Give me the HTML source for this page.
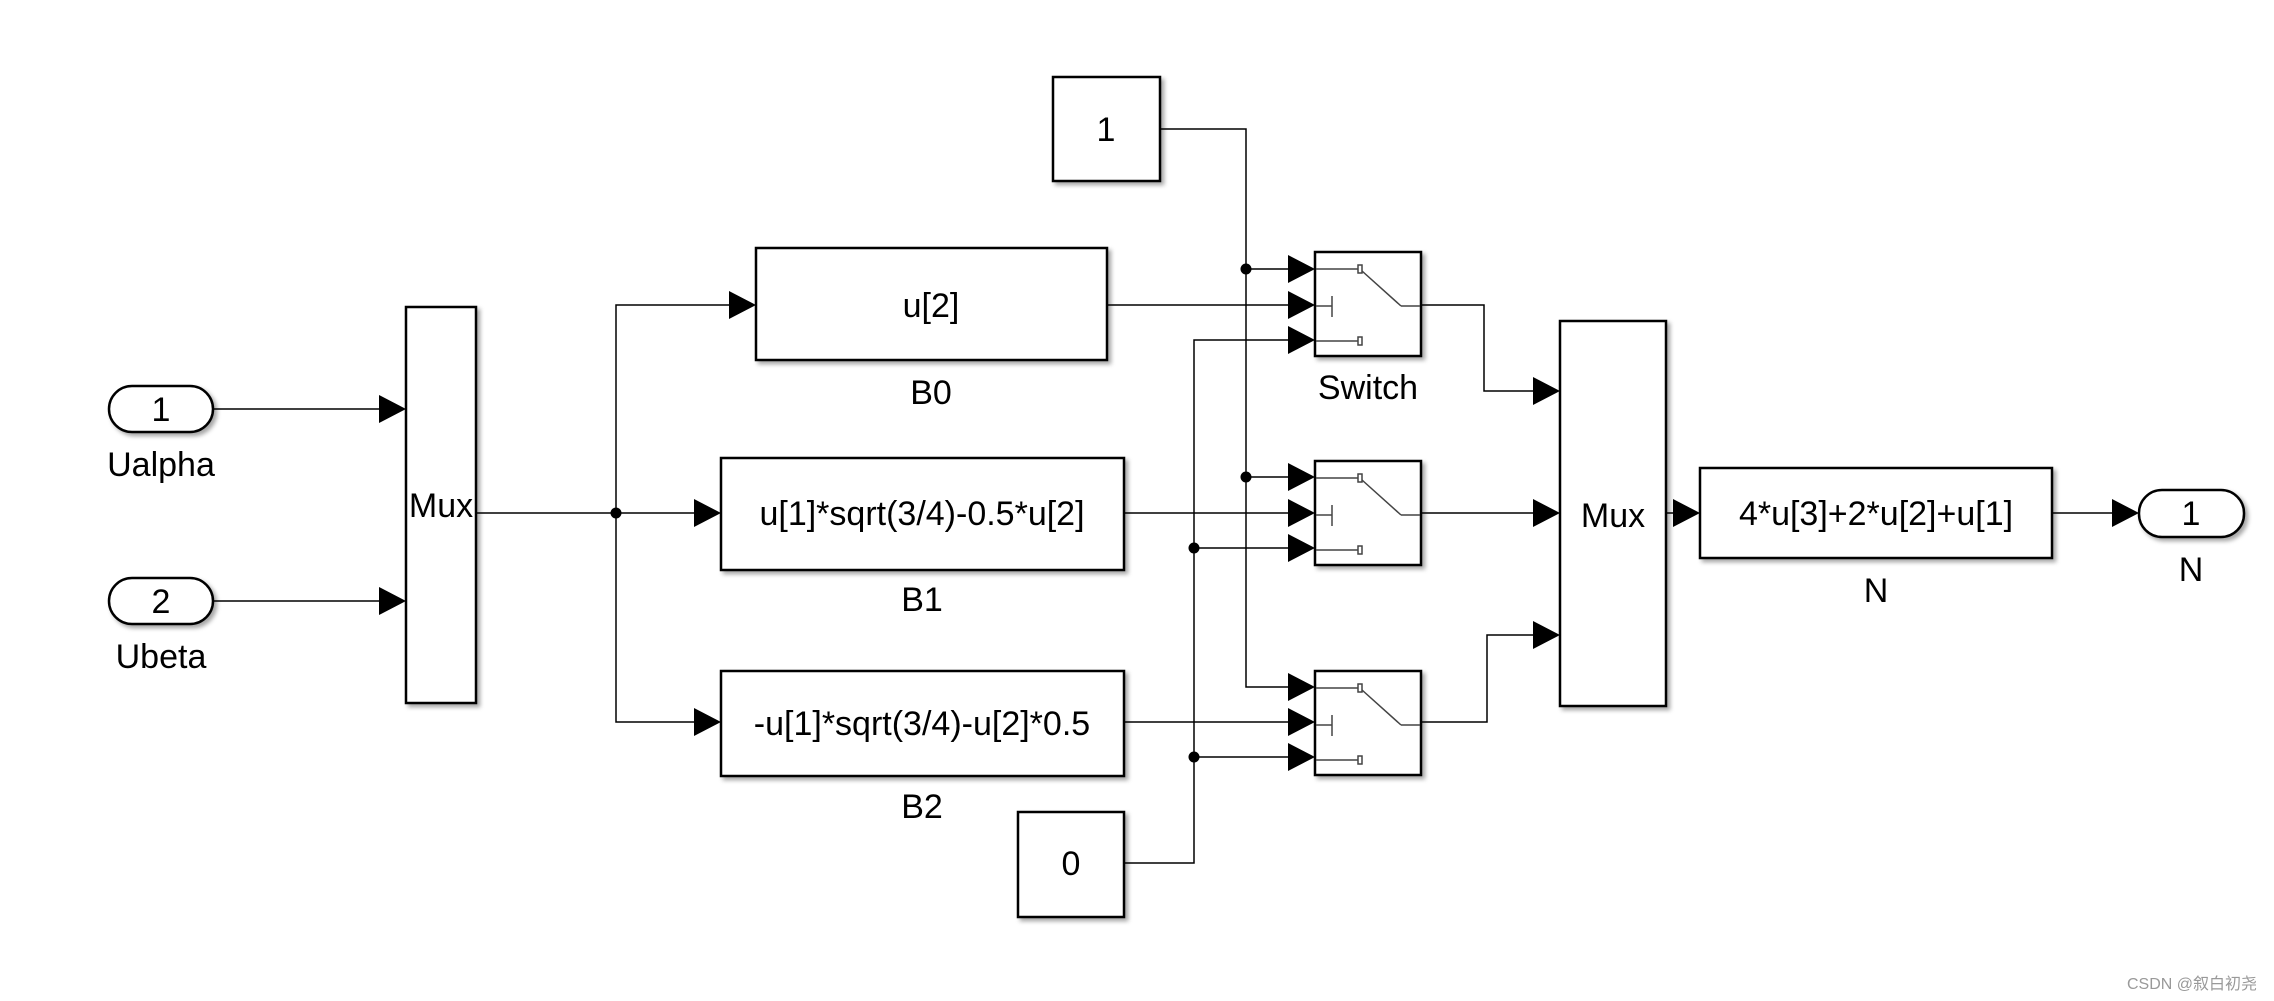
<!DOCTYPE html>
<html><head><meta charset="utf-8"><style>
html,body{margin:0;padding:0;background:#fff;}
svg{display:block;}
text{font-family:"Liberation Sans",Arial,sans-serif;font-size:34px;fill:#000;}
</style></head><body>
<svg width="2274" height="1001" viewBox="0 0 2274 1001" xmlns="http://www.w3.org/2000/svg">
<defs>
<filter id="sh" x="-10%" y="-10%" width="130%" height="130%"><feDropShadow dx="3" dy="3" stdDeviation="2" flood-color="#000" flood-opacity="0.35"/></filter>
<g id="sw">
<rect x="0" y="0" width="106" height="104" fill="#fff" stroke="#000" stroke-width="2.5" filter="url(#sh)"/>
<g stroke="#444" stroke-width="1.5" fill="#fff">
<line x1="1" y1="17" x2="43" y2="17"/><rect x="43" y="13" width="4" height="8"/>
<line x1="47" y1="19" x2="86" y2="54"/><line x1="86" y1="54" x2="105" y2="54"/>
<line x1="1" y1="54" x2="17" y2="54"/><line x1="17" y1="44" x2="17" y2="65"/>
<line x1="1" y1="89" x2="43" y2="89"/><rect x="43" y="85" width="4" height="8"/>
</g>
</g>
<path id="ar" d="M-27,-14 L0,0 L-27,14 Z" fill="#000"/>
</defs>

<g stroke="#000" stroke-width="1.5" fill="none">
<line x1="213" y1="409" x2="380" y2="409"/>
<line x1="213" y1="601" x2="380" y2="601"/>
<line x1="476" y1="513" x2="695" y2="513"/>
<polyline points="729,305 616,305 616,722 695,722"/>
<line x1="1107" y1="305" x2="1290" y2="305"/>
<line x1="1124" y1="513" x2="1290" y2="513"/>
<line x1="1124" y1="722" x2="1290" y2="722"/>
<polyline points="1160,129 1246,129 1246,687 1290,687"/>
<line x1="1246" y1="269" x2="1290" y2="269"/>
<line x1="1246" y1="477" x2="1290" y2="477"/>
<polyline points="1124,863 1194,863 1194,340 1290,340"/>
<line x1="1194" y1="548" x2="1290" y2="548"/>
<line x1="1194" y1="757" x2="1290" y2="757"/>
<polyline points="1421,305 1484,305 1484,391 1534,391"/>
<line x1="1421" y1="513" x2="1534" y2="513"/>
<polyline points="1421,722 1487,722 1487,635 1534,635"/>
<line x1="1666" y1="513" x2="1674" y2="513"/>
<line x1="2052" y1="513" x2="2113" y2="513"/>
</g>
<g fill="#000">
<circle cx="616" cy="513" r="5.5"/>
<circle cx="1246" cy="269" r="5.5"/>
<circle cx="1246" cy="477" r="5.5"/>
<circle cx="1194" cy="548" r="5.5"/>
<circle cx="1194" cy="757" r="5.5"/>
</g>
<use href="#ar" x="406" y="409"/><use href="#ar" x="406" y="601"/>
<use href="#ar" x="756" y="305"/><use href="#ar" x="721" y="513"/><use href="#ar" x="721" y="722"/>
<use href="#ar" x="1315" y="269"/><use href="#ar" x="1315" y="305"/><use href="#ar" x="1315" y="340"/>
<use href="#ar" x="1315" y="477"/><use href="#ar" x="1315" y="513"/><use href="#ar" x="1315" y="548"/>
<use href="#ar" x="1315" y="687"/><use href="#ar" x="1315" y="722"/><use href="#ar" x="1315" y="757"/>
<use href="#ar" x="1560" y="391"/><use href="#ar" x="1560" y="513"/><use href="#ar" x="1560" y="635"/>
<use href="#ar" x="1700" y="513"/><use href="#ar" x="2139" y="513"/>

<g fill="#fff" stroke="#000" stroke-width="2.5" filter="url(#sh)">
<rect x="109" y="386" width="104" height="46" rx="23"/>
<rect x="109" y="578" width="104" height="46" rx="23"/>
<rect x="406" y="307" width="70" height="396"/>
<rect x="756" y="248" width="351" height="112"/>
<rect x="721" y="458" width="403" height="112"/>
<rect x="721" y="671" width="403" height="105"/>
<rect x="1053" y="77" width="107" height="104"/>
<rect x="1018" y="812" width="106" height="105"/>
<rect x="1560" y="321" width="106" height="385"/>
<rect x="1700" y="468" width="352" height="90"/>
<rect x="2139" y="490" width="105" height="47" rx="23"/>
</g>
<use href="#sw" x="1315" y="252"/>
<use href="#sw" x="1315" y="461"/>
<use href="#sw" x="1315" y="671"/>

<g text-anchor="middle">
<text x="161" y="421">1</text>
<text x="161" y="476">Ualpha</text>
<text x="161" y="613">2</text>
<text x="161" y="668">Ubeta</text>
<text x="441" y="517">Mux</text>
<text x="931" y="317">u[2]</text>
<text x="931" y="404">B0</text>
<text x="922" y="525">u[1]*sqrt(3/4)-0.5*u[2]</text>
<text x="922" y="611">B1</text>
<text x="922" y="735">-u[1]*sqrt(3/4)-u[2]*0.5</text>
<text x="922" y="818">B2</text>
<text x="1106" y="141">1</text>
<text x="1071" y="875">0</text>
<text x="1368" y="399">Switch</text>
<text x="1613" y="527">Mux</text>
<text x="1876" y="525">4*u[3]+2*u[2]+u[1]</text>
<text x="1876" y="602">N</text>
<text x="2191" y="525">1</text>
<text x="2191" y="581">N</text>
</g>
<text x="2257" y="989" text-anchor="end" style="font-size:16px;fill:#999;font-family:'Liberation Sans','Noto Sans CJK SC',sans-serif">CSDN @叙白初尧</text>
</svg>
</body></html>
